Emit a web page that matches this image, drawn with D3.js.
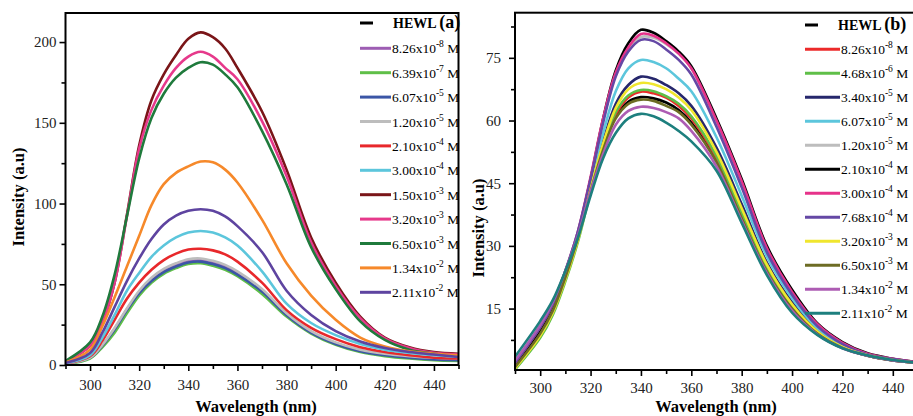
<!DOCTYPE html>
<html>
<head>
<meta charset="utf-8">
<script src="https://cdn.jsdelivr.net/npm/d3@7"></script>
<style>
  body { margin: 0; background: #fff; }
  svg text { font-family: "Liberation Serif", "DejaVu Serif", "Times New Roman", Times, serif; }
</style>
</head>
<body>
<div id="chart"></div>
<script>
/* DATA */
const wavelengths = [290, 300, 305, 310, 315, 320, 325, 330, 335, 340, 345, 350, 355, 360, 370, 380, 390, 400, 410, 420, 430, 440, 450];

// panel (a)
const aHEWL  = [0.8, 4.5, 12, 22, 34, 44.5, 52, 57.5, 61, 63.5, 64, 62.5, 60, 56, 45, 31, 20, 13, 8.5, 6, 4.5, 3.5, 3];
const a826e8 = [0.8, 4.5, 12, 22.5, 34.5, 45, 53, 58.5, 62, 64.5, 65, 63.5, 61, 57, 46, 31.5, 20.5, 13.5, 9, 6.5, 5, 4, 3.5];
const a639e7 = [0.6, 4, 11, 20, 32, 43, 51, 56.5, 60, 62.5, 63, 61.5, 59, 55, 44, 30, 19.5, 12.5, 8, 5.5, 4, 3, 2.5];
const a607e5 = [0.8, 4.5, 12, 22, 34, 44.5, 52, 57.5, 61, 63.5, 64, 62.5, 60, 56, 45.5, 31, 20, 13, 8.5, 6, 4.5, 3.5, 3];
const a120e5 = [0.8, 4.5, 12.5, 23, 35, 46, 54, 59.5, 63, 65.5, 66, 64.5, 62, 58, 47, 32, 21, 14, 9.5, 7, 5.5, 4.5, 4];
const a210e4 = [0.9, 5.5, 15, 28, 41, 51, 59, 65, 69, 71.5, 72, 71, 68.5, 64, 51, 34, 23, 16, 11, 8, 6, 4.5, 4];
const a300e4 = [1, 6, 17, 31, 46, 57, 67, 74, 79, 82, 83, 82, 79, 74, 58, 38, 26, 18.5, 13, 9.5, 7.5, 6, 5];
const a150e3 = [2, 12, 26, 51, 93, 136, 164, 180, 192, 202, 206, 203, 196, 184, 157, 121, 79, 51, 30, 17, 11, 8, 7];
const a320e3 = [2, 12, 26, 51, 92, 134, 158, 173, 184, 191, 194, 191, 184, 177, 151, 117, 76, 49, 29, 16.5, 10.5, 7.5, 6.5];
const a650e3 = [2.5, 14, 30, 56, 92, 128, 153, 168, 178, 184, 187.5, 186, 180, 172, 145, 112, 73, 47, 27, 15.5, 9.5, 7, 5.5];
const a134e2 = [1.5, 9.5, 24, 42, 61, 80, 99, 112, 119, 123, 126, 125.5, 121, 113, 90, 63, 43, 28, 17, 11.5, 8.5, 7, 6];
const a211e2 = [1.2, 7.5, 20, 36, 52, 66, 78, 87, 92.5, 95.5, 96.5, 95.5, 92, 86, 70, 46, 31, 21, 14.5, 10.5, 8, 6.5, 5];

const mantA = ["8.26", "6.39", "6.07", "1.20", "2.10", "3.00", "1.50", "3.20", "6.50", "1.34", "2.11"];
const expA  = ["-8", "-7", "-5", "-5", "-4", "-4", "-3", "-3", "-3", "-2", "-2"];

// panel (b)
const bHEWL  = [1.2, 9.5, 15, 23, 32, 43.5, 53.5, 61, 64.5, 65.6, 65.3, 64.3, 62.5, 59.5, 50.5, 37, 24, 15.2, 9, 5.6, 3.7, 2.6, 2];
const b826e8 = [1, 9, 14.5, 22.5, 32, 43.5, 54, 61.5, 65.5, 66.9, 66.5, 65.5, 63.5, 60.5, 51, 37.5, 24.5, 15.5, 9.2, 5.7, 3.8, 2.7, 2];
const b468e6 = [0.4, 8, 13.5, 21.5, 31, 43, 54, 62, 66, 67.3, 67, 65.8, 64, 61, 51.5, 38, 25, 15.7, 9.3, 5.7, 3.8, 2.7, 2];
const b340e5 = [1.5, 10, 15.5, 23.5, 32.5, 44, 55, 64, 68.5, 70.5, 70, 68.5, 66.5, 63.5, 53.5, 40, 26, 16.5, 9.8, 6, 3.9, 2.8, 2];
const b607e5 = [1.8, 10.5, 16, 24, 33, 45, 57, 67, 72.5, 74.5, 74, 72.5, 70, 67, 56, 42, 27.5, 17.5, 10.3, 6.3, 4, 2.8, 2.1];
const b120e5 = [2, 10.5, 16, 24, 33.5, 46, 60, 71, 77, 80, 79.8, 78.3, 76, 72.5, 59.5, 45, 29, 18.7, 11, 6.7, 4.1, 2.9, 2.1];
const b210e4 = [1.5, 10, 15.5, 23.5, 33, 46, 60.5, 72, 78.5, 81.7, 81, 79, 76.5, 73, 60.5, 46, 30, 19.5, 11.5, 7, 4.3, 3, 2.2];
const b300e4 = [2, 10.5, 16, 24, 33.5, 46.5, 60.5, 71.5, 77.5, 80.7, 80.3, 78.5, 76, 72.5, 60, 45.5, 29.5, 19, 11.3, 6.8, 4.2, 3, 2.2];
const b768e4 = [2, 10.5, 16, 24, 33.5, 46, 59.5, 70.5, 76.5, 79.3, 79, 77, 74.5, 71, 58.5, 44, 28.5, 18.3, 10.8, 6.5, 4, 2.9, 2.1];
const b320e3 = [0.7, 8.5, 14, 22, 31.5, 43.5, 54.5, 63, 67.5, 69, 68.7, 67.5, 65.5, 62.5, 52.5, 39, 25.5, 16, 9.5, 5.8, 3.8, 2.7, 2];
const b650e3 = [1, 9, 14.5, 22.5, 32, 43, 53, 60.5, 64, 65, 64.7, 63.5, 62, 59, 50, 36.5, 23.8, 15, 9, 5.6, 3.7, 2.6, 2];
const b134e2 = [2.5, 11, 16.5, 24, 32.5, 43, 52, 59, 62.3, 63.3, 63, 62, 60.5, 57.5, 49, 36, 23.5, 14.5, 8.8, 5.5, 3.7, 2.6, 2];
const b211e2 = [3.5, 12, 17, 24, 32, 42, 51, 57, 60.5, 61.6, 61, 59.5, 57.5, 55, 48, 35.5, 23, 14, 8.7, 5.5, 3.8, 2.7, 2];

const mantB = ["8.26", "4.68", "3.40", "6.07", "1.20", "2.10", "3.00", "7.68", "3.20", "6.50", "1.34", "2.11"];
const expB  = ["-8", "-6", "-5", "-5", "-5", "-4", "-4", "-4", "-3", "-3", "-2", "-2"];

const yTicksA = [0, 50, 100, 150, 200];
const yMinorA = [25, 75, 125, 175];
const yTicksB = [15, 30, 45, 60, 75];
const yMinorB = [7.5, 22.5, 37.5, 52.5, 67.5, 82.5];
const xTicks = [300, 320, 340, 360, 380, 400, 420, 440];
const xMinor = [290, 310, 330, 350, 370, 390, 410, 430, 450];

/* STYLES */
const serif = "'Liberation Serif', 'DejaVu Serif', 'Times New Roman', Times, serif";
const colorsA = ["#9d5db3", "#5fbf48", "#3b56a6", "#bdbdbd", "#e8282b", "#5cc6dc", "#7a1518", "#e6398b", "#1f7a3c", "#f6892a", "#5e44a0"];
const colorsB = ["#ec2a2a", "#5fbf48", "#26276c", "#5cc6dc", "#bdbdbd", "#000000", "#e6338a", "#6548a5", "#f0e62e", "#6d6c24", "#ad5cb3", "#1d7f7e"];

const svg = d3.select("#chart")
  .append("svg")
  .attr("width", 913)
  .attr("height", 416)
  .style("font-family", serif);

function drawPanel(p) {
  const x = d3.scaleLinear().domain([290, 450]).range(p.xRange);
  const y = d3.scaleLinear().domain(p.yDomain).range(p.yRange);
  const g = svg.append("g");

  g.append("clipPath").attr("id", "clip" + p.tag)
    .append("rect")
    .attr("x", p.xRange[0]).attr("y", p.yRange[1])
    .attr("width", p.xRange[1] - p.xRange[0])
    .attr("height", p.yRange[0] - p.yRange[1]);

  const line = d3.line()
    .x((d, i) => x(wavelengths[i]))
    .y(d => y(d))
    .curve(d3.curveCatmullRom.alpha(0.5));

  // curves, hewl first
  g.append("path")
    .attr("d", line(p.hewl))
    .attr("fill", "none").attr("stroke", "#000").attr("stroke-width", 2.6)
    .attr("clip-path", `url(#clip${p.tag})`);
  p.series.forEach((s, i) => {
    g.append("path")
      .attr("d", line(s))
      .attr("fill", "none")
      .attr("stroke", p.colors[i])
      .attr("stroke-width", 2.6)
      .attr("stroke-linejoin", "round")
      .attr("clip-path", `url(#clip${p.tag})`);
  });

  // frame
  g.append("rect")
    .attr("x", p.xRange[0]).attr("y", p.yRange[1])
    .attr("width", p.xRange[1] - p.xRange[0])
    .attr("height", p.yRange[0] - p.yRange[1])
    .attr("fill", "none").attr("stroke", "#000").attr("stroke-width", 2);

  // axes
  g.append("g").attr("transform", `translate(0,${p.yRange[0]})`)
    .call(d3.axisBottom(x).tickValues(xTicks).tickSize(6).tickPadding(p.xPad).tickFormat(d3.format("d")));
  g.append("g").attr("transform", `translate(0,${p.yRange[0]})`)
    .call(d3.axisBottom(x).tickValues(xMinor).tickSize(4).tickFormat(""));
  g.append("g").attr("transform", `translate(${p.xRange[0]},0)`)
    .call(d3.axisLeft(y).tickValues(p.yTicks).tickSize(6).tickPadding(p.yPad).tickFormat(d3.format("d")));
  g.append("g").attr("transform", `translate(${p.xRange[0]},0)`)
    .call(d3.axisLeft(y).tickValues(p.yMinor).tickSize(4).tickFormat(""));

  g.selectAll(".domain").remove();
  g.selectAll(".tick line").attr("stroke", "#000").attr("stroke-width", 1.6);
  g.selectAll(".tick text")
    .attr("fill", "#222")
    .attr("font-family", serif)
    .attr("font-size", 15);

  // axis titles
  g.append("text")
    .attr("x", p.xTitle[0]).attr("y", p.xTitle[1])
    .attr("text-anchor", "middle")
    .attr("font-family", serif)
    .attr("font-weight", "bold").attr("font-size", 16.5)
    .text("Wavelength (nm)");
  g.append("text")
    .attr("transform", `translate(${p.yTitle[0]},${p.yTitle[1]}) rotate(-90)`)
    .attr("text-anchor", "middle")
    .attr("font-family", serif)
    .attr("font-weight", "bold").attr("font-size", 16.5)
    .text("Intensity (a.u)");

  // legend
  const lg = g.append("g").attr("font-family", serif);
  lg.append("line")
    .attr("x1", p.legX).attr("x2", p.legX + 13)
    .attr("y1", p.legY0).attr("y2", p.legY0)
    .attr("stroke", "#000").attr("stroke-width", 3);
  const ht = lg.append("text")
    .attr("x", p.legX + 33).attr("y", p.legY0 + 5)
    .attr("font-weight", "bold");
  ht.append("tspan").attr("font-size", 14).text("HEWL ");
  ht.append("tspan").attr("font-size", 18).text(p.tag === "a" ? "(a)" : "(b)");

  p.mant.forEach((m, i) => {
    const yy = p.legY1 + i * p.legStep;
    lg.append("line")
      .attr("x1", p.legX).attr("x2", p.legX + p.legLen)
      .attr("y1", yy).attr("y2", yy)
      .attr("stroke", p.colors[i]).attr("stroke-width", 3);
    const t = lg.append("text")
      .attr("x", p.legX + p.legLen + 1).attr("y", yy + 5)
      .attr("font-size", 13.5);
    t.append("tspan").text(m + "x10");
    t.append("tspan").attr("dy", -6).attr("font-size", 9.5).text(p.exp[i]);
    t.append("tspan").attr("dy", 6).text(" M");
  });
}

drawPanel({
  tag: "a",
  xRange: [65.5, 458.5], yDomain: [0, 218], yRange: [365, 13],
  yTicks: yTicksA, yMinor: yMinorA, xPad: 8, yPad: 3,
  hewl: aHEWL,
  series: [a826e8, a639e7, a607e5, a120e5, a210e4, a300e4, a150e3, a320e3, a650e3, a134e2, a211e2],
  colors: colorsA, mant: mantA, exp: expA,
  xTitle: [256, 412], yTitle: [24, 197],
  legX: 360, legLen: 31, legY0: 23, legY1: 48.3, legStep: 24.4
});

drawPanel({
  tag: "b",
  xRange: [515, 918], yDomain: [0.3, 85.8], yRange: [370, 12.7],
  yTicks: yTicksB, yMinor: yMinorB, xPad: 6, yPad: 8,
  hewl: bHEWL,
  series: [b826e8, b468e6, b340e5, b607e5, b120e5, b210e4, b300e4, b768e4, b320e3, b650e3, b134e2, b211e2],
  colors: colorsB, mant: mantB, exp: expB,
  xTitle: [716, 412], yTitle: [484, 228],
  legX: 805, legLen: 35, legY0: 25, legY1: 49.3, legStep: 24.0
});
</script>
</body>
</html>
